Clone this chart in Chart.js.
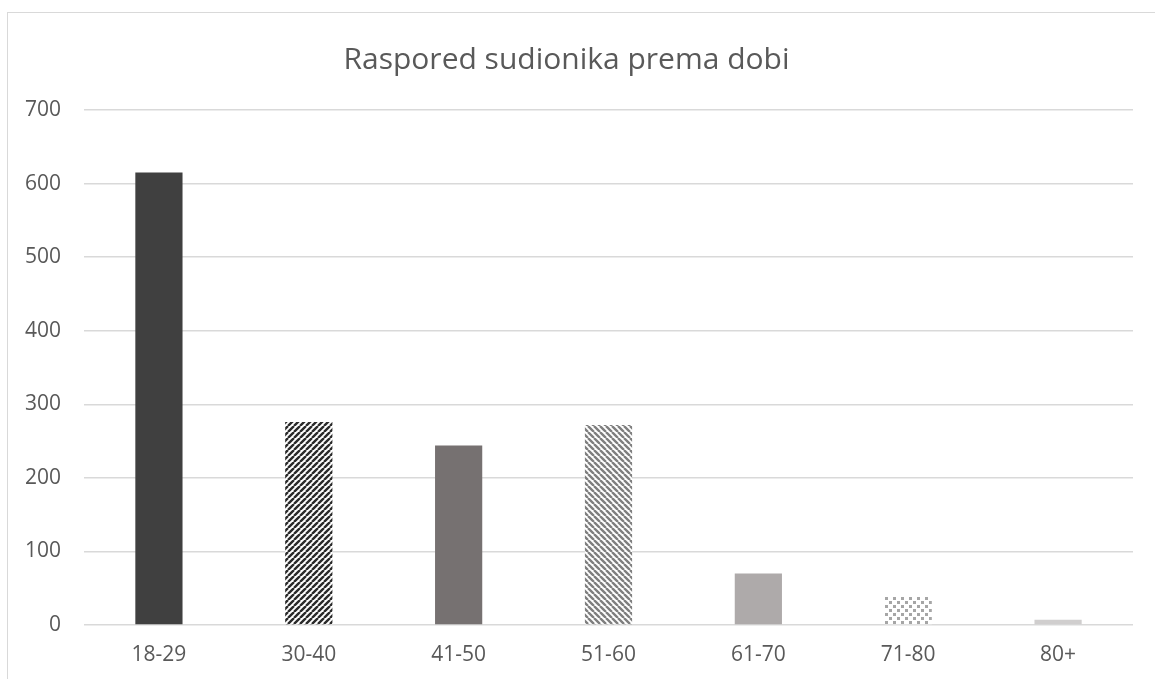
<!DOCTYPE html>
<html>
<head>
<meta charset="utf-8">
<script src="https://cdn.jsdelivr.net/npm/chart.js@4.4.1/dist/chart.umd.min.js"></script>
<style>
body { margin: 0; background: #fff; overflow: hidden; }
#okvir { position: absolute; left: 7px; top: 12px; width: 1200px; height: 720px; border: 1px solid #d9d9d9; }
#wrap { position: absolute; left: 0; top: 0; width: 1155px; height: 679px; }
</style>
</head>
<body>
<div id="okvir"></div>
<div id="wrap"><canvas id="bar-chart"></canvas></div>
<script>
var kategorije = ["18-29", "30-40", "41-50", "51-60", "61-70", "71-80", "80+"];
var vrijednosti = [615, 276, 244, 272, 70, 38, 7];
var oznakeY = [0, 100, 200, 300, 400, 500, 600, 700];
var naslov = "Raspored sudionika prema dobi";

// uzorci za ispune stupaca
function pruge(boja, smjer) {
  var c = document.createElement("canvas");
  c.width = 6; c.height = 6;
  var g = c.getContext("2d");
  g.fillStyle = "#ffffff";
  g.fillRect(0, 0, 6, 6);
  g.strokeStyle = boja;
  g.lineWidth = 2.4;
  g.beginPath();
  for (var k = -6; k <= 12; k += 6) {
    if (smjer > 0) { g.moveTo(k, 6); g.lineTo(k + 6, 0); }
    else { g.moveTo(k, 0); g.lineTo(k + 6, 6); }
  }
  g.stroke();
  return g.createPattern(c, "repeat");
}
function tockice(boja) {
  var c = document.createElement("canvas");
  c.width = 8; c.height = 8;
  var g = c.getContext("2d");
  g.fillStyle = "#ffffff";
  g.fillRect(0, 0, 8, 8);
  g.fillStyle = boja;
  g.fillRect(1, 1, 3, 3);
  g.fillRect(5, 5, 3, 3);
  return g.createPattern(c, "repeat");
}

var colores = [
  "#404040",
  pruge("#2b2b2b", 1),
  "#767171",
  pruge("#7f7f7f", -1),
  "#aeaaaa",
  tockice("#a6a6a6"),
  "#d0cece",
];

var ctx = document.getElementById("bar-chart");
var myBarChart = new Chart(ctx, {
  type: "bar",
  data: {
    labels: kategorije,
    datasets: [
      {
        label: "Broj sudionika",
        backgroundColor: colores,
        data: vrijednosti,
        barPercentage: 0.315,
        categoryPercentage: 1,
      },
    ],
  },
  options: {
    responsive: true,
    maintainAspectRatio: false,
    animation: false,
    layout: { padding: { left: 0, right: 22, top: 0, bottom: 12 } },
    plugins: {
      legend: { display: false },
      tooltip: { enabled: false },
      title: {
        display: true,
        text: naslov,
        color: "#595959",
        font: { family: "'Open Sans'", size: 30, weight: "normal" },
        padding: { top: 42, bottom: 32 },
      },
    },
    scales: {
      x: {
        afterFit: function (axis) { axis.height = 42; },
        grid: { display: false, drawTicks: false },
        border: { display: false },
        ticks: {
          color: "#595959",
          font: { family: "'Open Sans'", size: 21 },
          padding: 17,
          maxRotation: 0,
        },
      },
      y: {
        min: 0,
        max: 700,
        afterBuildTicks: function (axis) {
          axis.ticks = oznakeY.map(function (v) { return { value: v }; });
        },
        afterFit: function (axis) { axis.width = 84; },
        grid: { color: "#d9d9d9", lineWidth: 1.5, drawTicks: false },
        border: { display: false },
        ticks: {
          color: "#595959",
          font: { family: "'Open Sans'", size: 21 },
          padding: 23,
        },
      },
    },
  },
});
</script>
</body>
</html>
